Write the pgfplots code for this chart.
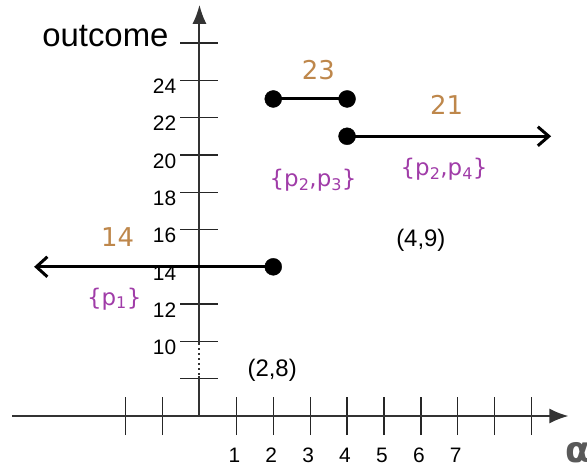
\documentclass[border=0pt]{standalone}
\usepackage{fontspec}
\setmainfont{Liberation Sans}
\newfontfamily\dejavu{DejaVu Sans}
\usepackage{pgfplots}
\pgfplotsset{compat=1.18}
\usetikzlibrary{arrows.meta}

\definecolor{valcol}{HTML}{BE874B}
\definecolor{setcol}{HTML}{A03CA8}
\definecolor{axcol}{HTML}{333333}

\begin{document}
\begin{tikzpicture}
\useasboundingbox (0bp,0bp) rectangle (587bp,-467bp);
\begin{axis}[
  at={(12bp,-416bp)}, anchor=south west,
  x=36.9bp, y=18.65bp,
  xmin=-5.08, xmax=10.0, ymin=6, ymax=28.05,
  axis x line=bottom, axis y line=middle,
  x axis line style={axcol, line width=2bp, -{Latex[length=19bp,width=15bp]}},
  y axis line style={axcol, line width=2bp, -{Latex[length=19bp,width=14bp]}},
  clip=false,
  xtick={-2,-1,1,2,...,9},
  xticklabels={{},{},1,2,3,4,5,6,7,{},{}},
  ytick={8,10,...,26},
  yticklabels={{},10,12,14,16,18,20,22,24,{}},
  tick align=center,
  major tick length=38bp,
  tick style={line width=1.3bp, color=black!85},
  /pgf/number format/assume math mode=true,
  xticklabel style={font=\fontsize{21}{21}\selectfont, anchor=base, inner sep=0pt, yshift=-27bp, xshift=-2bp},
  yticklabel style={font=\fontsize{21}{21}\selectfont, anchor=east, inner sep=0pt, xshift=-4bp, yshift=-6bp},
]
  % broken part of the vertical axis between 8 and 10
  \draw[white, line width=4bp] (axis cs:0,8.12) -- (axis cs:0,9.88);
  \draw[axcol, line width=2bp, dash pattern=on 1.6bp off 3.4bp] (axis cs:0,8.2) -- (axis cs:0,9.9);

  % outcome segments
  \addplot[line width=3bp, {Straight Barb[length=11bp,width=20bp,line width=3bp]}-]
    coordinates {(-4.48,14) (2,14)};
  \addplot[line width=3bp] coordinates {(2,23) (4,23)};
  \addplot[line width=3bp, -{Straight Barb[length=11bp,width=19bp,line width=3bp]}]
    coordinates {(4,21) (9.53,21)};
  \addplot[only marks, mark=*, mark size=8.5bp, black]
    coordinates {(2,14) (2,23) (4,23) (4,21)};

  % labels
  \node[anchor=base east, inner sep=0pt, font=\fontsize{33}{33}\selectfont]
    at (axis cs:-0.835,25.80) {outcome};
  \node[anchor=base west, inner sep=0pt, text=black!65, font=\dejavu\bfseries\fontsize{36}{36}\selectfont]
    at (axis cs:9.91,3.53) {α};

  \node[anchor=base, inner sep=0pt, text=valcol, font=\dejavu\fontsize{26}{26}\selectfont]
    at (axis cs:3.22,24.02) {23};
  \node[anchor=base, inner sep=0pt, text=valcol, font=\dejavu\fontsize{26}{26}\selectfont]
    at (axis cs:6.70,22.14) {21};
  \node[anchor=base, inner sep=0pt, text=valcol, font=\dejavu\fontsize{26}{26}\selectfont]
    at (axis cs:-2.22,15.08) {14};

  \node[anchor=base, inner sep=0pt, text=setcol, font=\dejavu\fontsize{23}{23}\selectfont]
    at (axis cs:3.08,18.28) {\{p\textsubscript{2},p\textsubscript{3}\}};
  \node[anchor=base, inner sep=0pt, text=setcol, font=\dejavu\fontsize{23}{23}\selectfont]
    at (axis cs:6.63,18.90) {\{p\textsubscript{2},p\textsubscript{4}\}};
  \node[anchor=base, inner sep=0pt, text=setcol, font=\dejavu\fontsize{23}{23}\selectfont]
    at (axis cs:-2.31,11.95) {\{p\textsubscript{1}\}};

  \node[anchor=base, inner sep=0pt, font=\fontsize{24}{24}\selectfont]
    at (axis cs:6.00,15.08) {(4,9)};
  \node[anchor=base, inner sep=0pt, font=\fontsize{24}{24}\selectfont]
    at (axis cs:1.97,8.11) {(2,8)};
\end{axis}
\end{tikzpicture}
\end{document}
